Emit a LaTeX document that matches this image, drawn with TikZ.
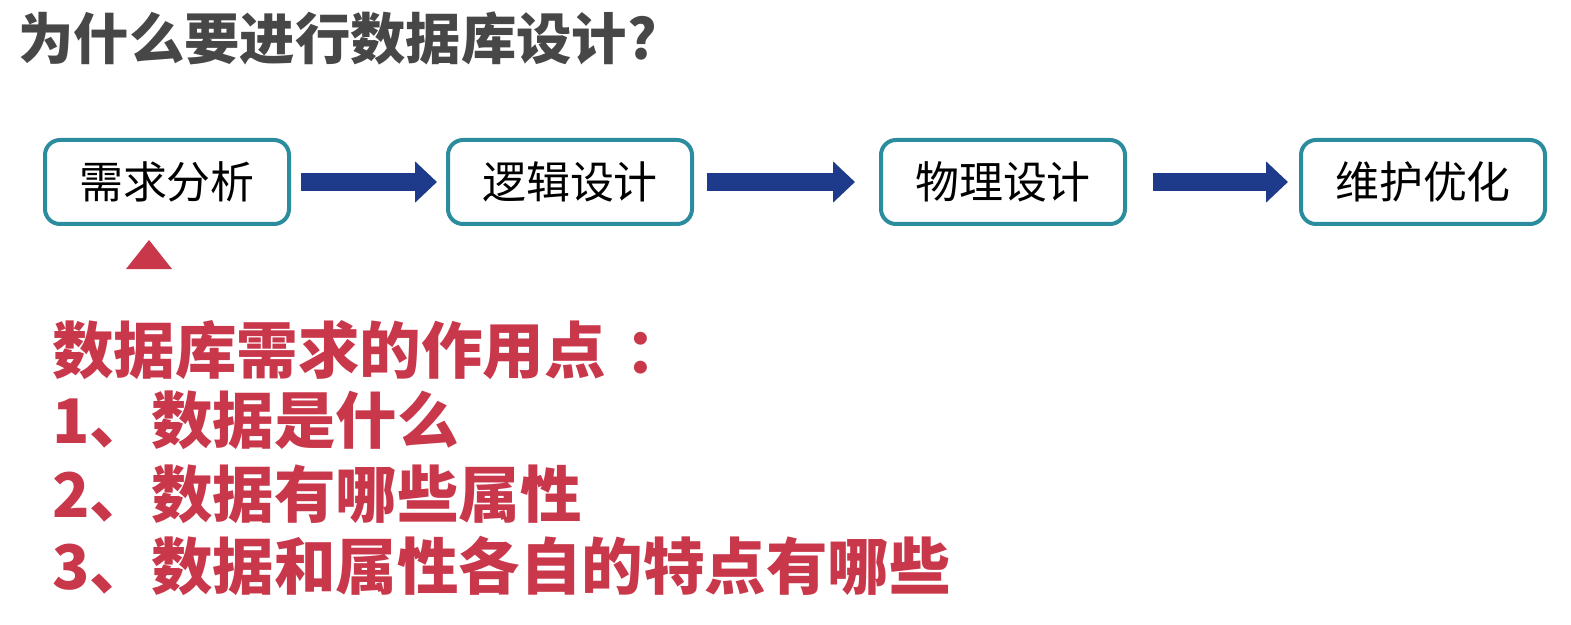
\documentclass[tikz,border=0pt]{standalone}
\usepackage{fontspec}
\usepackage{xcolor}
\usetikzlibrary{arrows.meta, positioning}
\setmainfont{Noto Sans CJK SC}
\definecolor{boxteal}{HTML}{2B8C9E}
\definecolor{flowblue}{HTML}{1D3B8A}
\definecolor{notered}{HTML}{C9374B}
\definecolor{titlegray}{HTML}{474747}

\begin{document}
\begin{tikzpicture}[
  stage/.style={draw=boxteal, line width=0.8mm, rounded corners=3mm,
    minimum width=48.8mm, minimum height=16.8mm, font=\fontsize{25}{30}\selectfont},
  flow/.style={-{Triangle[length=4.4mm, width=8mm]}, line width=3.6mm, draw=flowblue},
  note/.style={anchor=west, inner sep=0pt, text=notered,
    font=\fontsize{35}{40}\selectfont\bfseries}
]
\useasboundingbox (0,0) rectangle (31.42,-12.5);

\node[anchor=west, inner sep=0pt, text=titlegray, font=\fontsize{31.5}{36}\selectfont\bfseries]
  (title) at (0.36,-0.76) {为什么要进行数据库设计?};

\node[stage] (req) at (3.34,-3.64) {需求分析};
\node[stage, right=31mm of req] (logic) {逻辑设计};
\node[stage, right=37mm of logic] (phys) {物理设计};
\node[stage, right=34.4mm of phys] (maint) {维护优化};

\draw[flow, shorten <=2mm, shorten >=1.8mm] (req) -- (logic);
\draw[flow, shorten <=2.6mm, shorten >=4.8mm] (logic) -- (phys);
\draw[flow, shorten <=5.2mm, shorten >=2.2mm] (phys) -- (maint);

\fill[notered] (2.52,-5.38) -- (3.44,-5.38) -- (2.98,-4.80) -- cycle;

\node[note] (point) at (1.04,-7.00) {数据库需求的作用点\kern4mm：};
\node[note] (item1) at (1.04,-8.40) {1、数据是什么};
\node[note] (item2) at (1.04,-9.88) {2、数据有哪些属性};
\node[note] (item3) at (1.04,-11.32) {3、数据和属性各自的特点有哪些};
\end{tikzpicture}
\end{document}
